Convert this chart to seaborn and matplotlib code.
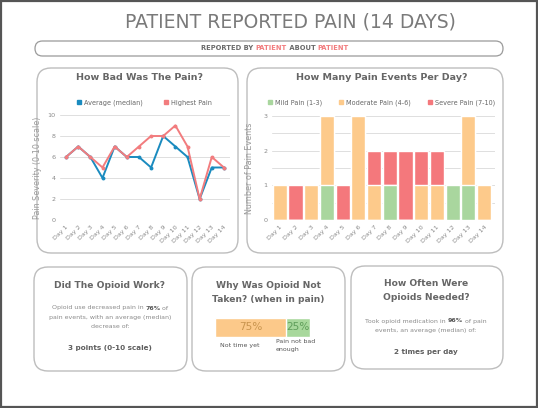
import seaborn as sns
import matplotlib
matplotlib.use("Agg")
import matplotlib.pyplot as plt
from matplotlib.patches import FancyBboxPatch, Rectangle
from matplotlib.lines import Line2D

# data
days = ["Day 1", "Day 2", "Day 3", "Day 4", "Day 5", "Day 6", "Day 7",
        "Day 8", "Day 9", "Day 10", "Day 11", "Day 12", "Day 13", "Day 14"]
avg_pain = [6, 7, 6, 4, 7, 6, 6, 5, 8, 7, 6, 2, 5, 5]
high_pain = [6, 7, 6, 5, 7, 6, 7, 8, 8, 9, 7, 2, 6, 5]

mild = [0, 0, 0, 1, 0, 0, 0, 1, 0, 0, 0, 1, 1, 0]
moderate = [1, 0, 1, 2, 0, 3, 1, 0, 0, 1, 1, 0, 2, 1]
severe = [0, 1, 0, 0, 1, 0, 1, 1, 2, 1, 1, 0, 0, 0]

reasons = ["Not time yet", "Pain not bad\nenough"]
reason_share = [75, 25]

BLUE = "#1a8bbf"
PINK = "#f27c7e"
GREEN = "#a9d69e"
ORANGE = "#fdca8b"
RED = "#f4787c"
TXT = "#666666"
LIGHT = "#8a8a8a"

sns.set_style("white")
plt.rcParams["font.family"] = ["DejaVu Sans"]

W, H = 538, 408
fig = plt.figure(figsize=(W / 100, H / 100), dpi=100)
fig.patch.set_facecolor("white")

bg = fig.add_axes([0, 0, 1, 1])
bg.set_xlim(0, W)
bg.set_ylim(H, 0)
bg.axis("off")


def box(x0, y0, x1, y1, r=14, lw=1.0, ec="#bdbdbd"):
    bg.add_patch(FancyBboxPatch((x0, y0), x1 - x0, y1 - y0,
                                boxstyle=f"round,pad=0,rounding_size={r}",
                                fc="white", ec=ec, lw=lw))


def rich(xc, y, parts, size):
    # parts: (text, color, weight), centred on xc
    r = fig.canvas.get_renderer()
    texts = []
    for s, c, wt in parts:
        t = bg.text(0, y, s, color=c, fontsize=size, fontweight=wt,
                    ha="left", va="center")
        texts.append(t)
    widths = [t.get_window_extent(r).width for t in texts]
    x = xc - sum(widths) / 2
    for t, w in zip(texts, widths):
        t.set_x(x)
        x += w


def rect(x0, y0, x1, y1):
    return [x0 / W, 1 - y1 / H, (x1 - x0) / W, (y1 - y0) / H]


# outer border
bg.add_patch(Rectangle((1, 1), W - 2, H - 2, fill=False, ec="#555555", lw=1.6))

# header
bg.text(290, 22, "PATIENT REPORTED PAIN (14 DAYS)", ha="center", va="center",
        fontsize=13.5, color="#7a7a7a")
box(35, 41, 503, 56, r=7.5, lw=0.9, ec="#9a9a9a")
rich(275, 48.5, [("REPORTED BY ", "#6a6a6a", "bold"), ("PATIENT", PINK, "bold"),
                 (" ABOUT ", "#6a6a6a", "bold"), ("PATIENT", PINK, "bold")], 4.9)

# panels
box(37, 68, 238, 253)
box(247, 68, 503, 253)
box(34, 267, 187, 371)
box(192, 267, 345, 371)
box(351, 266, 503, 369)

bg.text(140, 78, "How Bad Was The Pain?", ha="center", va="center",
        fontsize=6.8, fontweight="bold", color=TXT)
bg.text(382, 78, "How Many Pain Events Per Day?", ha="center", va="center",
        fontsize=6.8, fontweight="bold", color=TXT)

# line chart
ax1 = fig.add_axes(rect(60, 115, 230, 220))
sns.lineplot(x=list(range(len(days))), y=avg_pain, color=BLUE, lw=1.4,
             marker="o", markersize=2.8, markeredgewidth=0, ax=ax1)
sns.lineplot(x=list(range(len(days))), y=high_pain, color=PINK, lw=1.4,
             marker="o", markersize=2.8, markeredgewidth=0, ax=ax1)
for ln in ax1.lines:
    ln.set_clip_on(False)
ax1.set_xlim(-0.5, 13.5)
ax1.set_ylim(0, 10)
ax1.set_yticks(range(0, 11, 2))
ax1.set_xticks(range(len(days)))
ax1.set_xticklabels(days, rotation=45, ha="right", rotation_mode="anchor")
ax1.yaxis.grid(True, color="#dedede", lw=0.7)
ax1.set_axisbelow(True)
sns.despine(ax=ax1, left=True, bottom=True)
ax1.tick_params(axis="both", length=0, labelsize=4.6, colors=LIGHT, pad=3)
ax1.set_ylabel("Pain Severity (0-10 scale)", fontsize=5.8, color="#9a9a9a")
ax1.yaxis.set_label_coords(-0.105, 0.5)
ax1.set_xlabel("")
h1 = [Line2D([], [], ls="", marker="s", markersize=3.4, color=c) for c in (BLUE, PINK)]
ax1.legend(h1, ["Average (median)", "Highest Pain"], loc="center",
           bbox_to_anchor=(144, 103), bbox_transform=bg.transData, ncol=2,
           frameon=False, fontsize=4.7, handletextpad=0.3, columnspacing=3.0,
           handlelength=1.0, labelcolor=TXT)

# stacked bar chart (layered totals)
ax2 = fig.add_axes(rect(272, 116, 495, 220))
tot_sev = [a + b + c for a, b, c in zip(mild, moderate, severe)]
tot_mod = [a + b for a, b in zip(mild, moderate)]
sns.barplot(x=days, y=tot_sev, color=RED, saturation=1, width=0.9, ax=ax2)
sns.barplot(x=days, y=tot_mod, color=ORANGE, saturation=1, width=0.9, ax=ax2)
sns.barplot(x=days, y=mild, color=GREEN, saturation=1, width=0.9, ax=ax2)
ax2.set_xlim(-0.5, 13.7)
ax2.set_ylim(0, 3)
ax2.set_yticks([0, 1, 2, 3])
ax2.set_yticks([0.5, 1.5, 2.5], minor=True)
ax2.yaxis.grid(True, which="both", color="#dedede", lw=0.7)
ax2.set_axisbelow(True)
ax2.set_xticks(range(len(days)))
ax2.set_xticklabels(days, rotation=45, ha="right", rotation_mode="anchor")
sns.despine(ax=ax2, left=True, bottom=True)
ax2.tick_params(axis="both", which="both", length=0, labelsize=4.6, colors=LIGHT, pad=3)
ax2.set_ylabel("Number of Pain Events", fontsize=5.8, color="#9a9a9a")
ax2.yaxis.set_label_coords(-0.08, 0.5)
ax2.set_xlabel("")
h2 = [Line2D([], [], ls="", marker="s", markersize=3.4, color=c) for c in (GREEN, ORANGE, RED)]
ax2.legend(h2, ["Mild Pain (1-3)", "Moderate Pain (4-6)", "Severe Pain (7-10)"],
           loc="center", bbox_to_anchor=(381, 103), bbox_transform=bg.transData,
           ncol=3, frameon=False, fontsize=4.7, handletextpad=0.3,
           columnspacing=2.4, handlelength=1.0, labelcolor=TXT)

# bottom panel 1
bg.text(110, 286, "Did The Opioid Work?", ha="center", va="center",
        fontsize=6.6, fontweight="bold", color=TXT)
rich(110, 308, [("Opioid use decreased pain in ", LIGHT, "normal"),
                ("76%", "#555555", "bold"), (" of", LIGHT, "normal")], 4.5)
rich(110, 317.5, [("pain events, with an average (median)", LIGHT, "normal")], 4.5)
rich(110, 327, [("decrease of:", LIGHT, "normal")], 4.5)
bg.text(110, 348, "3 points (0-10 scale)", ha="center", va="center",
        fontsize=5.2, fontweight="bold", color="#5e5e5e")

# bottom panel 2
bg.text(268, 285, "Why Was Opioid Not", ha="center", va="center",
        fontsize=6.6, fontweight="bold", color=TXT)
bg.text(268, 299, "Taken? (when in pain)", ha="center", va="center",
        fontsize=6.6, fontweight="bold", color=TXT)
ax3 = fig.add_axes(rect(215, 318, 310, 337))
sns.barplot(x=[sum(reason_share)], y=[0], orient="h", color="#a8d89c",
            saturation=1, width=1, ax=ax3)
sns.barplot(x=[reason_share[0]], y=[0], orient="h", color="#fcc98a",
            saturation=1, width=1, ax=ax3)
ax3.set_xlim(0, 100)
ax3.set_ylim(0.5, -0.5)
ax3.axis("off")
ax3.text(reason_share[0] / 2, 0, f"{reason_share[0]}%", ha="center", va="center",
         fontsize=7.6, color="#c9954f")
ax3.text(reason_share[0] + reason_share[1] / 2, 0, f"{reason_share[1]}%",
         ha="center", va="center", fontsize=7.6, color="#5f9e5a")
bg.text(240, 346, reasons[0], ha="center", va="center", fontsize=4.5, color="#555555")
bg.text(276, 345.5, reasons[1], ha="left", va="center", fontsize=4.5,
        color="#555555", linespacing=1.6)

# bottom panel 3
bg.text(426, 284, "How Often Were", ha="center", va="center",
        fontsize=6.6, fontweight="bold", color=TXT)
bg.text(426, 298, "Opioids Needed?", ha="center", va="center",
        fontsize=6.6, fontweight="bold", color=TXT)
rich(426, 321, [("Took opioid medication in ", LIGHT, "normal"),
                ("96%", "#555555", "bold"), (" of pain", LIGHT, "normal")], 4.5)
rich(426, 330.5, [("events, an average (median) of:", LIGHT, "normal")], 4.5)
bg.text(426, 352, "2 times per day", ha="center", va="center",
        fontsize=5.2, fontweight="bold", color="#5e5e5e")

fig.savefig("out.png", dpi=100)
